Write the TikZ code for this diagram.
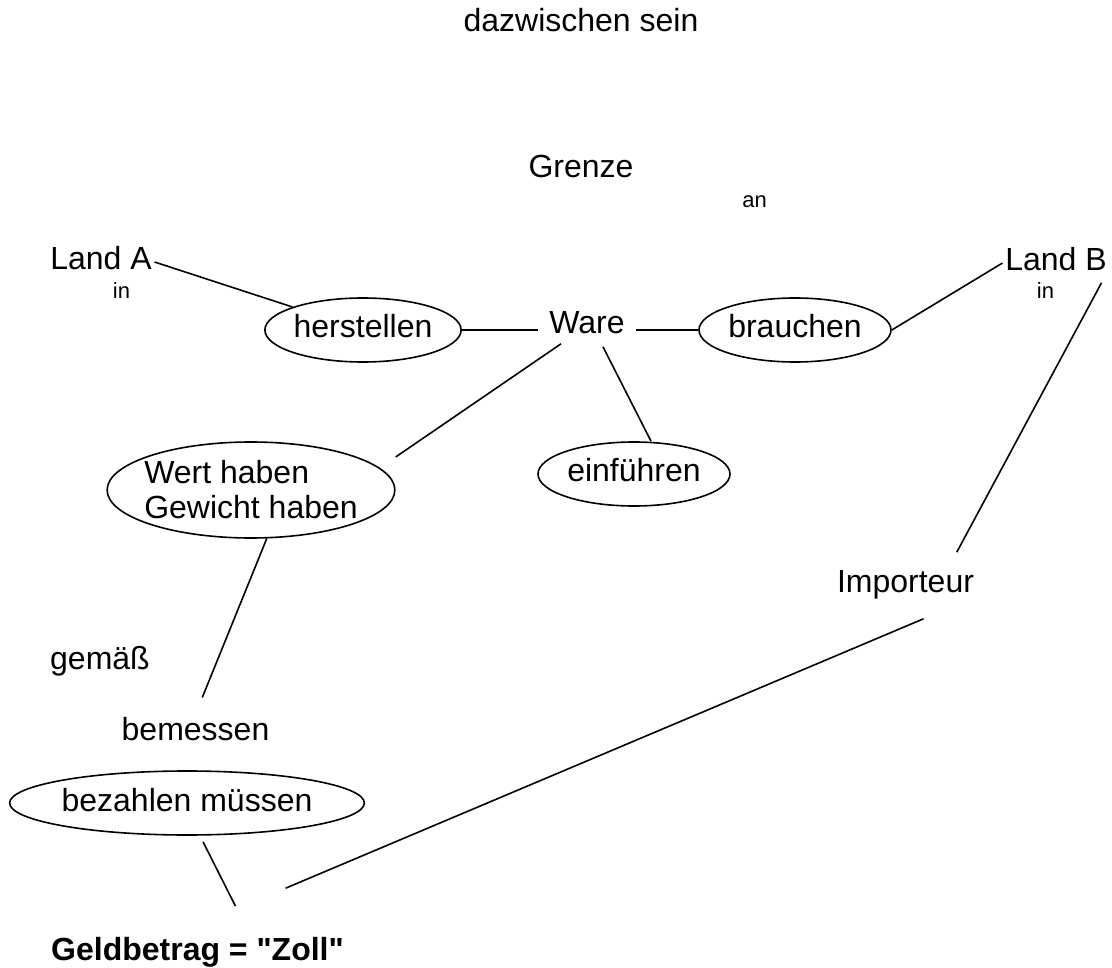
\documentclass[tikz,border=0pt]{standalone}
\usepackage{fontspec}
\setmainfont{Liberation Sans}
\newfontfamily\plainsans{Liberation Sans}
\usetikzlibrary{shapes.geometric}

\begin{document}
\begin{tikzpicture}[x=1pt, y=-1pt, line width=1.6pt,
    word/.style={anchor=base, inner sep=2pt, text height=23pt, text depth=7pt, font=\fontsize{32}{35}\selectfont},
    smallword/.style={anchor=base, inner sep=1pt, font=\fontsize{22}{24}\selectfont},
    oval/.style={ellipse, draw, inner sep=0pt, minimum width=192pt, minimum height=64pt, text height=23pt, text depth=7pt, font=\fontsize{32}{35}\selectfont}]
    \useasboundingbox (0,0) rectangle (1112,968);

    % Top labels without connectors
    \node[word] (dazwischen) at (581,32) {dazwischen sein};
    \node[word] (grenze) at (581,178) {Grenze};
    \node[smallword] (an) at (754.5,208) {an};

    % Countries on both sides
    \node[word] (landA) at (101,270) {Land A};
    \node[smallword] (inA) at (121.5,299) {in};
    \node[word] (landB) at (1056,271) {Land B};
    \node[smallword] (inB) at (1045.5,299) {in};

    % Middle row: herstellen - Ware - brauchen
    \node[oval] (herstellen) at (363,330) {herstellen};
    \node[word, inner xsep=11pt] (ware) at (587,334) {Ware};
    \node[oval] (brauchen) at (795,330) {brauchen};

    \node[oval] (einfuehren) at (634,474) {einführen};
    \node[ellipse, draw, inner xsep=-5pt, inner ysep=0pt, minimum height=96pt, align=left, font=\fontsize{32}{35}\selectfont] (wert) at (251,490) {Wert haben\\Gewicht haben};

    % Lower part
    \node[word] (importeur) at (905.5,592) {Importeur};
    \node[word] (gemaess) at (100,669) {gemäß};
    \node[word] (bemessen) at (195.5,740) {bemessen};
    \node[oval] (bezahlen) at (187,803) {bezahlen müssen};
    \node[word, font=\plainsans\fontsize{32}{35}\selectfont\bfseries] (geld) at (197.5,960) {Geldbetrag = "Zoll"};

    % Connectors
    \draw (landA.east) -- (herstellen);
    \draw (herstellen.east) -- (herstellen.east -| ware.west);
    \draw (brauchen.west -| ware.east) -- (brauchen.west);
    \draw (brauchen.east) -- (landB.west);
    \draw (ware) -- ([shift={(0,-33)}]wert.east);
    \draw ([shift={(16,3)}]ware.south) -- ([shift={(17,0)}]einfuehren.north);
    \draw[shorten >=18pt] (wert.-72) -- (bemessen.north);
    \draw ([shift={(16,6)}]bezahlen.south) -- ([shift={(38,-28)}]geld.north);
    \draw ([shift={(-8,2)}]landB.south east) -- ([shift={(-20,-14)}]importeur.north east);
    \draw ([shift={(18,17)}]importeur.south) -- ([shift={(-61,-46)}]geld.north east);
\end{tikzpicture}
\end{document}
